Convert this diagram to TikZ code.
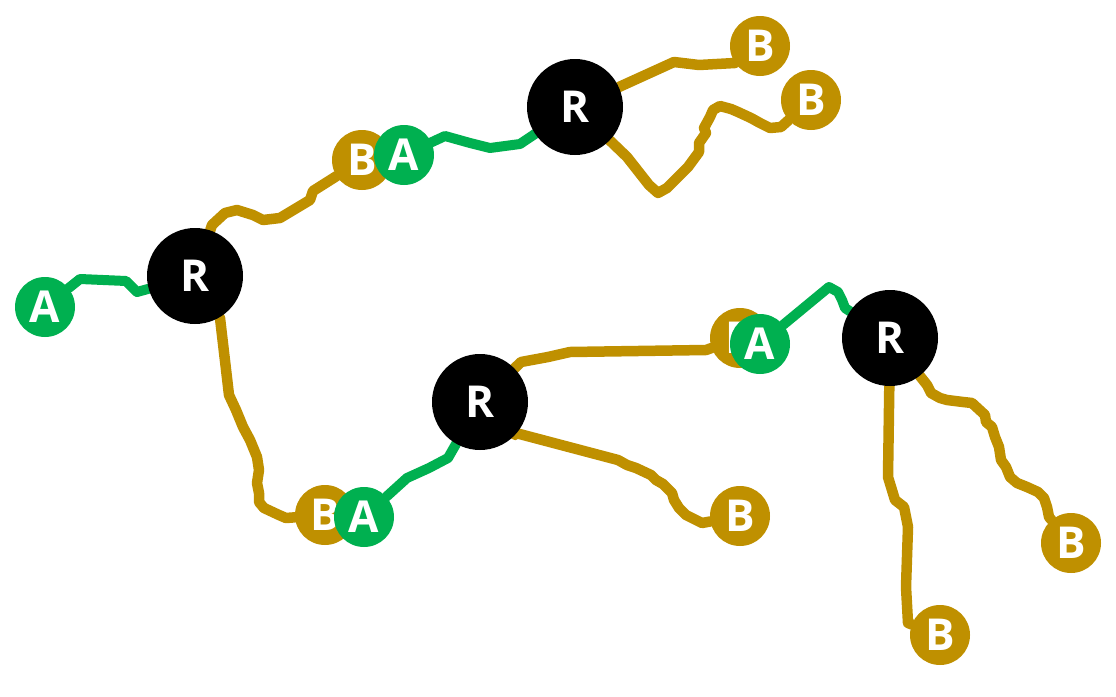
\documentclass[tikz,border=0pt]{standalone}
\usepackage{fontspec}
\setsansfont{Open Sans}
\usepackage{tikz}
\usetikzlibrary{backgrounds}
\definecolor{agreen}{RGB}{0,176,80}
\definecolor{bgold}{RGB}{191,144,0}
\tikzset{
  font=\sffamily\bfseries\fontsize{44}{44}\selectfont,
  baseball/.style={circle, inner sep=0pt, text=white},
  rball/.style={baseball, fill=black, minimum size=96pt},
  aball/.style={baseball, fill=agreen, minimum size=60pt},
  bball/.style={baseball, fill=bgold, minimum size=60pt},
  aline/.style={draw=agreen, line width=10pt, line cap=round, line join=round},
  bline/.style={draw=bgold, line width=10.5pt, line cap=round, line join=round}
}

\begin{document}
\begin{tikzpicture}[x=1pt, y=-1pt]

  \useasboundingbox (0,0) rectangle (1116,696);

  % Roots
  \node[rball] (r1) at (195,276) {R};
  \node[rball] (r2) at (575,107) {R};
  \node[rball] (r3) at (480,402) {R};
  \node[rball] (r4) at (890,338) {R};

  % Leaves
  \node[aball] (a1) at (45,307) {A};
  \node[bball] (b2) at (362,160) {B};
  \node[aball] (a2) at (404,155) {A};
  \node[bball] (b3) at (760,46) {B};
  \node[bball] (b4) at (811,100) {B};
  \node[bball] (b5) at (325,515) {B};
  \node[aball] (a3) at (364,517) {A};
  \node[bball] (b6) at (740,516) {B};
  \node[bball] (b7) at (740,338) {B};
  \node[aball] (a4) at (760,344) {A};
  \node[bball] (b8) at (940,635) {B};
  \node[bball] (b9) at (1071,543) {B};

  % Strands
  \begin{scope}[on background layer]
    \draw[aline] (a1) -- (80,279) -- (126,281) -- (137,292) -- (r1);
    \draw[bline] (r1) -- (212,225) -- (225,213) -- (237,210) -- (253,215)
      -- (263,220) -- (280,218) -- (310,200) -- (313,191) -- (b2);
    \draw[aline] (a2) -- (445,136) -- (470,143) -- (490,148) -- (520,144) -- (r2);
    \draw[bline] (r2) -- (674,62) -- (699,65) -- (735,63) -- (b3);
    \draw[bline] (r2) -- (627,157) -- (649,185) -- (658,193) -- (667,188)
      -- (688,167) -- (699,152) -- (699,143) -- (706,133) -- (704,128)
      -- (710,117) -- (713,110) -- (720,106) -- (731,109) -- (738,112)
      -- (751,118) -- (760,123) -- (770,128) -- (781,127) -- (b4);
    \draw[bline] (r1) -- (220,318) -- (229,395) -- (236,410) -- (243,427) -- (250,440)
      -- (257,457) -- (259,470) -- (257,483) -- (259,493) -- (259,502)
      -- (264,508) -- (279,515) -- (286,518) -- (b5);
    \draw[aline] (a3) -- (407,478) -- (429,468) -- (448,458) -- (r3);
    \draw[bline] (r3) -- (521,362) -- (548,357) -- (570,352) -- (706,350) -- (b7);
    \draw[bline] (r3) -- (512,432) -- (618,460) -- (627,465) -- (636,468) -- (651,475)
      -- (656,480) -- (663,484) -- (672,493) -- (674,500) -- (679,508)
      -- (686,515) -- (692,518) -- (702,523) -- (b6);
    \draw[aline] (a4) -- (829,287) -- (838,292) -- (842,300) -- (845,308) -- (r4);
    \draw[bline] (r4) -- (888,477) -- (895,500) -- (904,507) -- (908,527)
      -- (906,587) -- (908,623) -- (b8);
    \draw[bline] (r4) -- (927,385) -- (931,393) -- (940,398) -- (947,400)
      -- (963,402) -- (972,403) -- (985,415) -- (986,422) -- (992,427)
      -- (995,437) -- (999,447) -- (1001,460) -- (1006,467) -- (1010,477)
      -- (1017,483) -- (1027,487) -- (1038,492) -- (1044,498) -- (1047,507)
      -- (1049,517) -- (b9);
  \end{scope}

\end{tikzpicture}
\end{document}
